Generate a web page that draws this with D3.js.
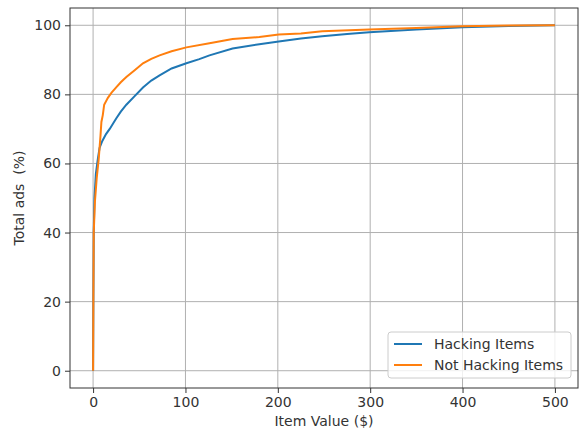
<!DOCTYPE html>
<html>
<head>
<meta charset="utf-8">
<script src="https://cdn.jsdelivr.net/npm/d3@7"></script>
<style>
  body { margin: 0; background: #fff; }
  text { font-family: "DejaVu Sans", sans-serif; fill: #333; }
</style>
</head>
<body>
<div id="chart-area"></div>
<script>
// Data (CDF of item value)
var hackingX = [0, 0.3, 0.7, 1.5, 3, 5, 7, 10, 14, 18, 25, 30, 36, 45, 54, 63, 72, 85, 101, 115, 126, 151, 180, 201, 225, 248, 275, 299, 350, 400, 450, 500];
var hackingY = [0, 20, 40, 50, 57, 61, 64.5, 66.5, 68.5, 70, 73, 75, 77, 79.5, 82, 84, 85.5, 87.5, 89, 90.2, 91.3, 93.3, 94.5, 95.3, 96.2, 96.8, 97.5, 98, 98.8, 99.4, 99.8, 100];
var notHackingX = [0, 0.3, 0.7, 2, 4, 6, 7, 8, 9, 10.5, 12, 16, 20, 25, 30, 36, 45, 54, 63, 72, 85, 101, 126, 151, 180, 201, 225, 248, 299, 350, 400, 450, 500];
var notHackingY = [0, 20, 40, 49, 56, 61, 64.5, 68, 72, 74, 77, 79, 80.5, 82, 83.5, 85, 87, 89, 90.3, 91.3, 92.5, 93.6, 94.8, 96, 96.6, 97.3, 97.6, 98.3, 98.8, 99.2, 99.7, 99.9, 100];
var seriesNames = ["Hacking Items", "Not Hacking Items"];
var seriesColors = ["#1f77b4", "#ff7f0e"];
var xTicks = [0, 100, 200, 300, 400, 500];
var yTicks = [0, 20, 40, 60, 80, 100];

var margin = { left: 70, right: 1, top: 8, bottom: 42 };
var width = 579 - margin.left - margin.right,
    height = 430 - margin.top - margin.bottom;

var svg = d3.select("#chart-area")
    .append("svg")
        .attr("width", 579)
        .attr("height", 430);
var g = svg.append("g")
    .attr("transform", "translate(" + margin.left + "," + margin.top + ")");

// Scales
var x = d3.scaleLinear().domain([-25, 525]).range([0, width]);
var y = d3.scaleLinear().domain([-5, 105]).range([height, 0]);

// Grid
g.selectAll(".xgrid").data(xTicks).enter().append("line")
    .attr("x1", function(d){ return x(d); })
    .attr("x2", function(d){ return x(d); })
    .attr("y1", 0).attr("y2", height)
    .attr("stroke", "#b0b0b0").attr("stroke-width", 1);
g.selectAll(".ygrid").data(yTicks).enter().append("line")
    .attr("y1", function(d){ return y(d); })
    .attr("y2", function(d){ return y(d); })
    .attr("x1", 0).attr("x2", width)
    .attr("stroke", "#b0b0b0").attr("stroke-width", 1);

// Lines
var line = d3.line()
    .x(function(d){ return x(d[0]); })
    .y(function(d){ return y(d[1]); });
var series = [
    d3.zip(hackingX, hackingY),
    d3.zip(notHackingX, notHackingY)
];
series.forEach(function(s, i){
    g.append("path")
        .datum(s)
        .attr("fill", "none")
        .attr("stroke", seriesColors[i])
        .attr("stroke-width", 2)
        .attr("d", line);
});

// Axes
var xAxis = g.append("g")
    .attr("transform", "translate(0," + height + ")")
    .call(d3.axisBottom(x).tickValues(xTicks).tickSize(5).tickPadding(4));
var yAxis = g.append("g")
    .call(d3.axisLeft(y).tickValues(yTicks).tickSize(5).tickPadding(4));
[xAxis, yAxis].forEach(function(a){
    a.select(".domain").remove();
    a.selectAll("line").attr("stroke", "#333");
    a.selectAll("text").attr("font-size", "14px").attr("fill", "#333")
        .attr("font-family", "DejaVu Sans, sans-serif");
});

// Frame
g.append("rect")
    .attr("width", width).attr("height", height)
    .attr("fill", "none").attr("stroke", "#333").attr("stroke-width", 1);

// Labels
g.append("text")
    .attr("x", x(250))
    .attr("y", height + 38)
    .attr("text-anchor", "middle")
    .attr("font-size", "14px")
    .text("Item Value ($)");
g.append("text")
    .attr("transform", "rotate(-90)")
    .attr("x", -y(50))
    .attr("y", -46)
    .attr("text-anchor", "middle")
    .attr("font-size", "14px")
    .style("white-space", "pre")
    .text("Total ads  (%)");

// Legend
var legend = g.append("g")
    .attr("transform", "translate(" + (width - 190) + "," + (height - 56) + ")");
legend.append("rect")
    .attr("width", 183).attr("height", 46).attr("rx", 3)
    .attr("fill", "#fff").attr("fill-opacity", 0.8)
    .attr("stroke", "#ccc");
seriesNames.forEach(function(name, i){
    var row = legend.append("g")
        .attr("transform", "translate(0," + (12 + i * 21) + ")");
    row.append("line")
        .attr("x1", 6).attr("x2", 34)
        .attr("stroke", seriesColors[i]).attr("stroke-width", 2);
    row.append("text")
        .attr("x", 46).attr("y", 5)
        .attr("font-size", "14px")
        .text(name);
});
</script>
</body>
</html>
